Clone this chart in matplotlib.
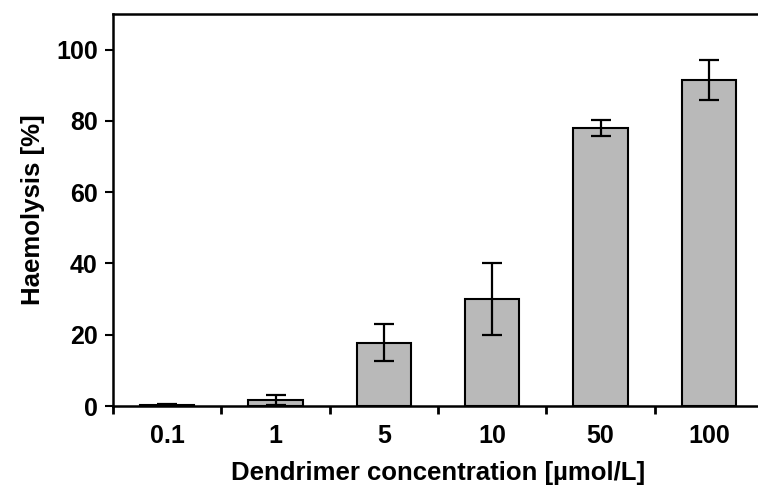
import numpy as np
from matplotlib import pyplot as plt

# Haemolysis data
categories = ["0.1", "1", "5", "10", "50", "100"]
values = [0.3, 1.7, 17.8, 30.0, 78.0, 91.5]
errors = [0.2, 1.4, 5.2, 10.0, 2.2, 5.6]

plt.rcParams['font.family'] = ['Liberation Sans', 'DejaVu Sans']

fig = plt.figure(figsize=(7.58, 4.88), dpi=100)
ax = fig.add_axes([113/758, 82/488, 650/758, 392/488])

x = np.arange(len(categories))
ax.bar(x, values, width=0.5, color="#b9b9b9", edgecolor="black", linewidth=1.5,
       yerr=errors, capsize=7, error_kw=dict(elinewidth=1.6, capthick=1.6, ecolor="black"), zorder=2)

ax.set_xlim(-0.5, len(categories) - 0.5)
ax.set_ylim(0, 110)
ax.set_yticks(np.arange(0, 101, 20))
ax.set_xticks(x)
ax.set_xticklabels(categories)
ax.set_xticks(np.arange(-0.5, len(categories) - 0.4, 1), minor=True)
ax.tick_params(axis="x", which="major", length=0, pad=13)
ax.tick_params(axis="x", which="minor", length=6, width=2, direction="out")
ax.tick_params(axis="y", length=6, width=1.5, direction="out", pad=5)

for lbl in ax.get_xticklabels() + ax.get_yticklabels():
	lbl.set_fontweight("bold")
	lbl.set_fontsize(18)

for s in ax.spines.values():
	s.set_linewidth(1.8)

ax.set_xlabel("Dendrimer concentration [µmol/L]", fontsize=18.5, fontweight="bold", labelpad=9)
ax.set_ylabel("Haemolysis [%]", fontsize=18.5, fontweight="bold", labelpad=8)

plt.savefig("out.png", dpi=100)
